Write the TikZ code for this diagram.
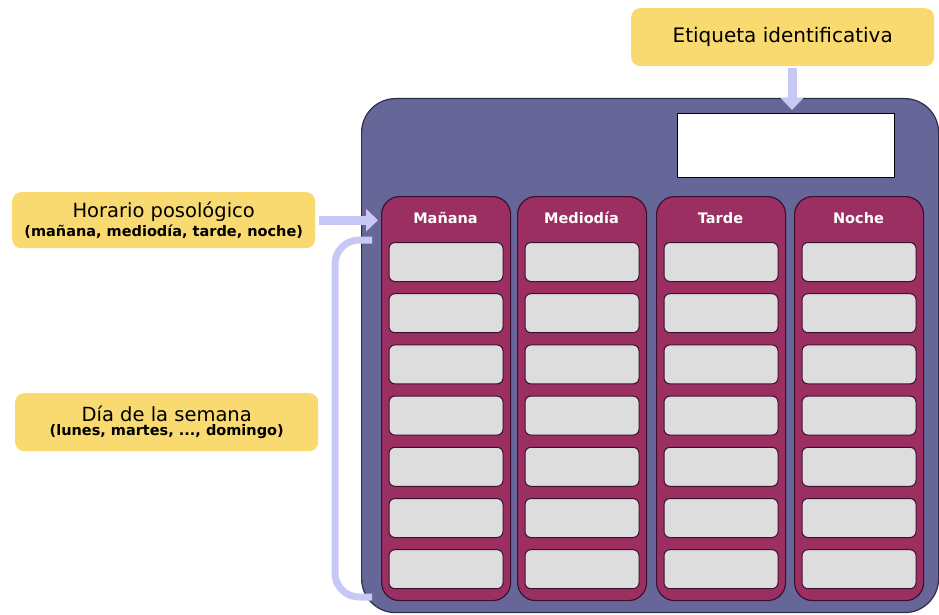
\documentclass[tikz,border=0pt]{standalone}
\usepackage{fontspec}
\setmainfont{DejaVu Sans}
\usetikzlibrary{arrows.meta}
\definecolor{yel}{HTML}{F9DA70}
\definecolor{board}{HTML}{676699}
\definecolor{boardline}{HTML}{2E2D4A}
\definecolor{colm}{HTML}{9C2F61}
\definecolor{colline}{HTML}{3A1230}
\definecolor{cellc}{HTML}{DDDDDD}
\definecolor{lav}{HTML}{C8C8F7}
\tikzset{
  yelbox/.style={fill=yel, rounded corners=9pt, inner sep=0pt, anchor=north west, align=center},
  mainbox/.style={fill=board, draw=boardline, line width=1.2pt, rounded corners=34pt, anchor=north west, inner sep=0pt},
  labelbox/.style={fill=white, draw=black, line width=1pt, anchor=north west, inner sep=0pt},
  colbox/.style={fill=colm, draw=colline, line width=1.2pt, rounded corners=18pt, anchor=north west, inner sep=0pt, minimum width=129pt, minimum height=404pt},
  cellbox/.style={fill=cellc, draw=colline, line width=1pt, rounded corners=6pt, anchor=north west, inner sep=0pt, minimum width=114pt, minimum height=39pt},
  headtxt/.style={text=white, font=\fontsize{14.5}{16}\selectfont\bfseries},
  lavarrow/.style={draw=lav, line width=9pt, -{Triangle[width=22pt,length=12pt]}},
  lavline/.style={draw=lav, line width=7pt, rounded corners=24pt}
}
\begin{document}
\begin{tikzpicture}[x=1pt,y=-1pt]
\useasboundingbox[fill=white] (0,0) rectangle (939,615);

% labels
\node[yelbox, minimum width=303pt, minimum height=58pt] (etiq) at (631,8)
  {\fontsize{20}{22}\selectfont Etiqueta identificativa};
\node[yelbox, minimum width=303pt, minimum height=56pt] (horario) at (12,192)
  {\fontsize{19.5}{20}\selectfont Horario posológico\\[2pt]
   \fontsize{14.5}{18.5}\selectfont\bfseries (mañana, mediodía, tarde, noche)};
\node[yelbox, minimum width=303pt, minimum height=58pt] (dia) at (15,393)
  {\fontsize{19.5}{20}\selectfont Día de la semana\\[2pt]
   \fontsize{14.5}{18.5}\selectfont\bfseries (lunes, martes, ..., domingo)};

% board
\node[mainbox, minimum width=577pt, minimum height=514pt] (board) at (361,98) {};
\node[labelbox, minimum width=217pt, minimum height=64pt] (idbox) at (677,113) {};

% columns
\foreach \i/\x/\name in {1/381/Mañana, 2/517/Mediodía, 3/656/Tarde, 4/794/Noche}{
  \node[colbox] (c\i) at (\x,196) {};
  \node[headtxt] (h\i) at (\x+64.5,218) {\name};
  \foreach \j in {1,...,7}{
    \node[cellbox] (cell\i\j) at (\x+7.5,{242+51.2*(\j-1)}) {};
  }
}

% connectors
\draw[lavarrow] ([xshift=-103pt,yshift=-2pt]etiq.south -| idbox.north east) -- ([xshift=-103pt,yshift=3pt]idbox.north east);
\draw[lavarrow] ([xshift=4pt]horario.east) -- ([xshift=-3pt]horario.east -| c1.west);
\coordinate (bt) at (372,240);
\coordinate (bb) at (372,597);
\draw[lavline] (bt) -- (335,240) -- (335,597) -- (bb);
\end{tikzpicture}
\end{document}
